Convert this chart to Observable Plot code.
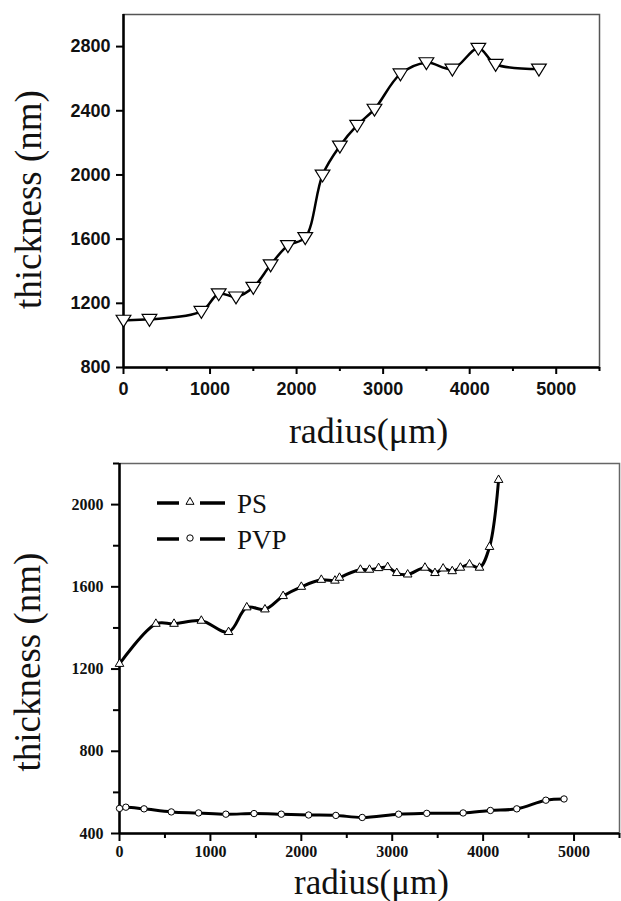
<!DOCTYPE html>
<html>
<head>
<meta charset="utf-8">
<script src="https://cdn.jsdelivr.net/npm/d3@7"></script>
<script src="https://cdn.jsdelivr.net/npm/@observablehq/plot@0.6"></script>
<style>
  body { margin: 0; background: #fff; }
  #wrap { position: relative; width: 621px; height: 901px; overflow: hidden; background: #fff; }
  #top { position: absolute; left: 0; top: 0; }
  #bot { position: absolute; left: 0; top: 455px; }
  #legend { position: absolute; left: 0; top: 0; pointer-events: none; }
</style>
</head>
<body>
<div id="wrap">
  <div id="top"></div>
  <div id="bot"></div>
  <svg id="legend" width="621" height="901"></svg>
</div>
<script>
// ---- Top chart data ----
const topRadius    = [0, 300, 900, 1100, 1300, 1500, 1700, 1900, 2100, 2300, 2500, 2700, 2900, 3200, 3500, 3800, 4100, 4300, 4800];
const topThickness = [1095, 1100, 1150, 1260, 1240, 1300, 1440, 1560, 1610, 2000, 2180, 2310, 2410, 2630, 2700, 2660, 2790, 2690, 2660];
const topXTicks = [0, 1000, 2000, 3000, 4000, 5000];
const topXMinor = [500, 1500, 2500, 3500, 4500, 5500];
const topYTicks = [800, 1200, 1600, 2000, 2400, 2800];
const topXDomain = [0, 5500];
const topYDomain = [800, 3000];

// ---- Bottom chart data ----
const psRadius    = [0, 400, 600, 900, 1200, 1400, 1600, 1800, 2000, 2220, 2370, 2420, 2650, 2750, 2850, 2950, 3050, 3170, 3360, 3470, 3560, 3660, 3750, 3850, 3960, 4070, 4170];
const psThickness = [1225, 1420, 1420, 1435, 1380, 1500, 1490, 1555, 1600, 1634, 1630, 1644, 1683, 1683, 1691, 1696, 1667, 1660, 1693, 1667, 1689, 1676, 1693, 1709, 1693, 1794, 2120];
const pvpRadius    = [0, 70, 270, 570, 870, 1170, 1480, 1780, 2080, 2380, 2670, 3070, 3380, 3780, 4080, 4370, 4690, 4890];
const pvpThickness = [522, 528, 520, 505, 500, 494, 497, 494, 490, 488, 478, 494, 498, 500, 512, 520, 562, 568];
const botXTicks = [0, 1000, 2000, 3000, 4000, 5000];
const botXMinor = [500, 1500, 2500, 3500, 4500, 5500];
const botYTicks = [400, 800, 1200, 1600, 2000];
const botYMinor = [600, 1000, 1400, 1800, 2200];
const botXDomain = [0, 5500];
const botYDomain = [400, 2200];
const seriesNames = ["PS", "PVP"];

const xTitle = "radius(\u03bcm)";
const yTitle = "thickness (nm)";

const topRows = topRadius.map((r, i) => ({radius: r, thickness: topThickness[i]}));
const psRows = psRadius.map((r, i) => ({radius: r, thickness: psThickness[i], series: seriesNames[0]}));
const pvpRows = pvpRadius.map((r, i) => ({radius: r, thickness: pvpThickness[i], series: seriesNames[1]}));

const downTriangle = {
  draw(ctx, size) {
    const r = Math.sqrt(size / Math.PI);
    ctx.moveTo(-1.05 * r, -0.7 * r);
    ctx.lineTo(1.05 * r, -0.7 * r);
    ctx.lineTo(0, r);
    ctx.closePath();
  }
};

const serif = "'Liberation Serif', 'DejaVu Serif', serif";
const sans = "'Liberation Sans', Arial, sans-serif";

const topChart = Plot.plot({
  width: 621, height: 455,
  marginLeft: 123, marginRight: 22, marginTop: 14, marginBottom: 88,
  x: {domain: topXDomain},
  y: {domain: topYDomain},
  style: {background: "white", overflow: "visible"},
  marks: [
    Plot.frame({stroke: "#555", strokeWidth: 1.5}),
    Plot.ruleX([topXDomain[0]], {stroke: "black", strokeWidth: 2.5}),
    Plot.ruleY([topYDomain[0]], {stroke: "black", strokeWidth: 2.5}),
    Plot.axisX({ticks: topXTicks, tickSize: 7, tickPadding: 8, tickFormat: d => String(d), label: null,
      fontSize: 18, fontWeight: "bold", fontFamily: sans, strokeWidth: 2, fill: "#111"}),
    Plot.axisX({ticks: topXMinor, tickSize: 4, tickFormat: () => "", label: null, strokeWidth: 2}),
    Plot.axisY({ticks: topYTicks, tickSize: 7, tickPadding: 6, tickFormat: d => String(d), label: null,
      fontSize: 18, fontWeight: "bold", fontFamily: sans, strokeWidth: 2, fill: "#111"}),
    Plot.line(topRows, {x: "radius", y: "thickness", curve: "catmull-rom", stroke: "black", strokeWidth: 2.5}),
    Plot.dot(topRows, {x: "radius", y: "thickness", symbol: downTriangle, r: 7, fill: "white", stroke: "black", strokeWidth: 1.2}),
    Plot.text([xTitle], {text: d => d, frameAnchor: "bottom", textAnchor: "middle", lineAnchor: "middle", dx: 7, dy: 64,
      fontSize: 36, fontFamily: serif, fill: "#111"}),
    Plot.text([yTitle], {text: d => d, frameAnchor: "left", textAnchor: "middle", lineAnchor: "middle", rotate: -90, dx: -94, dy: 8.5,
      fontSize: 37, fontFamily: serif, fill: "#111"})
  ]
});
document.getElementById("top").appendChild(topChart);

const botChart = Plot.plot({
  width: 621, height: 446,
  marginLeft: 119, marginRight: 2, marginTop: 8, marginBottom: 68,
  x: {domain: botXDomain},
  y: {domain: botYDomain},
  style: {background: "white", overflow: "visible"},
  marks: [
    Plot.frame({stroke: "#666", strokeWidth: 1.5}),
    Plot.ruleX([botXDomain[0]], {stroke: "black", strokeWidth: 2.5}),
    Plot.ruleY([botYDomain[0]], {stroke: "black", strokeWidth: 2.5}),
    Plot.axisX({ticks: botXTicks, tickSize: 8, tickPadding: 4, tickFormat: d => String(d), label: null,
      fontSize: 16, fontWeight: "bold", fontFamily: serif, strokeWidth: 2, fill: "#111"}),
    Plot.axisX({ticks: botXMinor, tickSize: 5, tickFormat: () => "", label: null, strokeWidth: 2}),
    Plot.axisY({ticks: botYTicks, tickSize: 8, tickPadding: 8, tickFormat: d => String(d), label: null,
      fontSize: 16, fontWeight: "bold", fontFamily: serif, strokeWidth: 2, fill: "#111"}),
    Plot.axisY({ticks: botYMinor, tickSize: 6, tickFormat: () => "", label: null, strokeWidth: 2}),
    Plot.line(psRows, {x: "radius", y: "thickness", curve: "catmull-rom", stroke: "black", strokeWidth: 3}),
    Plot.line(pvpRows, {x: "radius", y: "thickness", curve: "catmull-rom", stroke: "black", strokeWidth: 3}),
    Plot.dot(psRows, {x: "radius", y: "thickness", symbol: "triangle", r: 3.2, fill: "white", stroke: "black", strokeWidth: 1}),
    Plot.dot(pvpRows, {x: "radius", y: "thickness", symbol: "circle", r: 3.2, fill: "white", stroke: "black", strokeWidth: 1}),
    Plot.text([xTitle], {text: d => d, frameAnchor: "bottom", textAnchor: "middle", lineAnchor: "middle", dx: 2, dy: 49,
      fontSize: 35, fontFamily: serif, fill: "#111"}),
    Plot.text([yTitle], {text: d => d, frameAnchor: "left", textAnchor: "middle", lineAnchor: "middle", rotate: -90, dx: -91, dy: 13.5,
      fontSize: 37, fontFamily: serif, fill: "#111"})
  ]
});
document.getElementById("bot").appendChild(botChart);

// ---- Legend (overlay on bottom chart) ----
const legend = d3.select("#legend");
const legendSymbols = [d3.symbolTriangle, d3.symbolCircle];
const legendSizes = [28, 32];
seriesNames.forEach((name, i) => {
  const cy = 503 + i * 36;
  const g = legend.append("g");
  g.append("line").attr("x1", 157).attr("x2", 179).attr("y1", cy).attr("y2", cy)
    .attr("stroke", "black").attr("stroke-width", 3.5);
  g.append("line").attr("x1", 200).attr("x2", 225).attr("y1", cy).attr("y2", cy)
    .attr("stroke", "black").attr("stroke-width", 3.5);
  g.append("path").attr("d", d3.symbol(legendSymbols[i], legendSizes[i])())
    .attr("transform", `translate(190,${cy - 1})`)
    .attr("fill", "white").attr("stroke", "black").attr("stroke-width", 1);
  g.append("text").attr("x", 237).attr("y", cy + 10).text(name)
    .attr("font-family", serif).attr("font-size", 27).attr("fill", "#111");
});
</script>
</body>
</html>
